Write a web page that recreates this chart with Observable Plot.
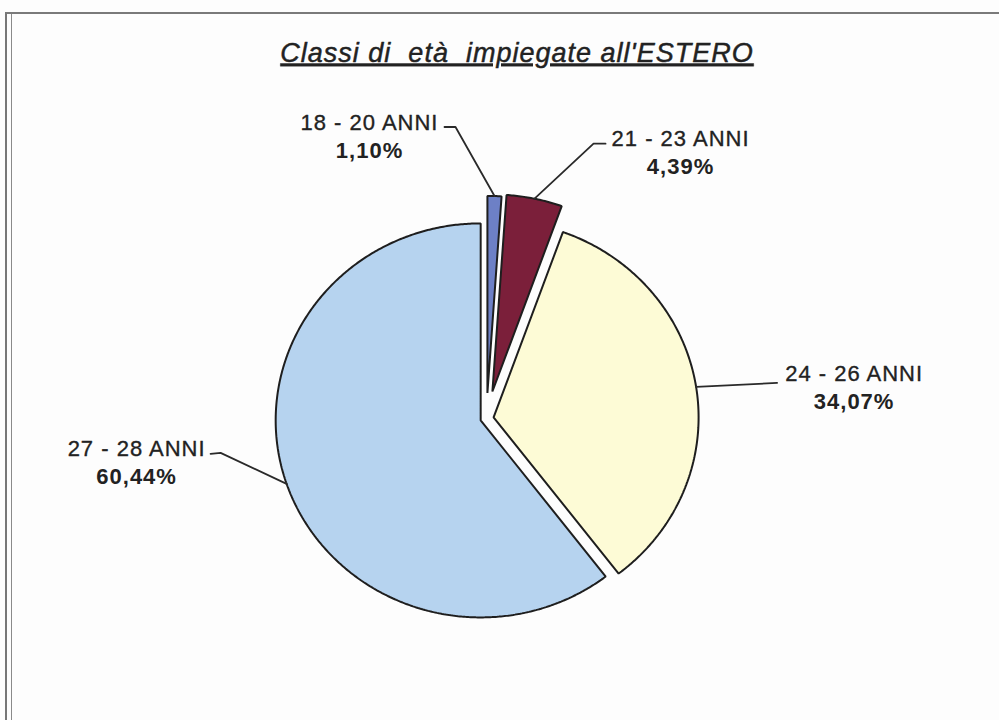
<!DOCTYPE html>
<html><head><meta charset="utf-8">
<script src="https://cdn.jsdelivr.net/npm/d3@7"></script>
<script src="https://cdn.jsdelivr.net/npm/@observablehq/plot@0.6"></script>
<style>
body{margin:0;background:#fff;}
#wrap{position:relative;width:999px;height:720px;overflow:hidden;background:#fdfdfd;}
#wrap svg{position:absolute;left:0;top:0;}
.fr1{position:absolute;left:5px;top:12px;width:2000px;height:2000px;border-left:2px solid #777;border-top:2px solid #7a7a7a;}
.fr2{position:absolute;left:11px;top:14px;width:2000px;height:2000px;border-left:1.5px solid #8a8a8a;}
</style></head><body><div id="wrap"><div class="fr1"></div><div class="fr2"></div></div>
<script>
// ---- data ----
const title = "Classi di  età  impiegate all'ESTERO";
const categories = ["18 - 20 ANNI", "21 - 23 ANNI", "24 - 26 ANNI", "27 - 28 ANNI"];
const shares = [1.10, 4.39, 34.07, 60.44];
const shareLabels = ["1,10%", "4,39%", "34,07%", "60,44%"];

// ---- style / layout constants ----
const colors = ["#6d80c6", "#7b1f3a", "#fdfbd6", "#b6d3ef"];
const explode = [0.13, 0.14, 0.035, 0.03];          // radial offset, in pie radii
const CX = 486, CY = 418, RX = 205, RY = 197;       // pie centre & radius (px)
// leader/label offsets in px relative to the arc point at the slice bisector
const leaderLayout = [
  {path: [[-39, -69], [-50, -69]], text: [-125, -66]},
  {path: [[59, -55], [71, -55]], text: [146, -53]},
  {path: [[81, -4]], text: [158, -6]},
  {path: [[-66, -31], [-76, -30]], text: [-150, -28]}
];
const lineGap = 28;
const font = "'Liberation Sans', Arial, Helvetica, sans-serif";

// ---- geometry ----
const total = d3.sum(shares);
const rad = d => d * Math.PI / 180;
const pt = (deg, r, ox, oy) => [ox + r * Math.sin(rad(deg)), oy - r * Math.cos(rad(deg))];
let cum = 0;
const slices = shares.map((v, i) => {
  const a0 = cum / total * 360; cum += v; const a1 = cum / total * 360;
  const [ox, oy] = pt((a0 + a1) / 2, explode[i], 0, 0);
  return {i, cat: categories[i], a0, a1, mid: (a0 + a1) / 2, ox, oy};
});
const slicePts = [];
slices.forEach(s => {
  slicePts.push({cat: s.cat, x: s.ox, y: s.oy});
  const n = Math.max(2, Math.ceil((s.a1 - s.a0) / 0.5));
  for (let k = 0; k <= n; k++) {
    const a = s.a0 + (s.a1 - s.a0) * k / n;
    const [x, y] = pt(a, 1, s.ox, s.oy);
    slicePts.push({cat: s.cat, x, y});
  }
});
const leaderPts = [], labels = [];
slices.forEach(s => {
  const [ax, ay] = pt(s.mid, 1, s.ox, s.oy);
  const L = leaderLayout[s.i];
  leaderPts.push({cat: s.cat, x: ax, y: ay});
  L.path.forEach(([dx, dy]) => leaderPts.push({cat: s.cat, x: ax + dx / RX, y: ay + dy / RY}));
  labels.push({cat: s.cat, pct: shareLabels[s.i], x: ax + L.text[0] / RX, y: ay + L.text[1] / RY, y2: ay + (L.text[1] + lineGap) / RY});
});

const chart = Plot.plot({
  width: 999, height: 720,
  margin: 0,
  style: {fontFamily: font, background: "transparent", overflow: "visible"},
  x: {domain: [-CX / RX, (999 - CX) / RX], range: [0, 999], axis: null},
  y: {domain: [-CY / RY, (720 - CY) / RY], range: [0, 720], axis: null},
  color: {type: "ordinal", domain: categories, range: colors},
  marks: [
    Plot.line(slicePts, {x: "x", y: "y", z: "cat", fill: "cat", stroke: "#1e1e1e", strokeWidth: 2, curve: "linear-closed", strokeLinejoin: "miter"}),
    Plot.line(leaderPts, {x: "x", y: "y", z: "cat", stroke: "#2a2a2a", strokeWidth: 1.8}),
    Plot.text(labels, {x: "x", y: "y", text: "cat", fontSize: 22, fill: "#222", stroke: "#222", strokeWidth: 0.35, textAnchor: "middle", lineAnchor: "bottom", className: "lbl"}),
    Plot.text(labels, {x: "x", y: "y2", text: "pct", fontSize: 22, fontWeight: "bold", fill: "#222", textAnchor: "middle", lineAnchor: "bottom", className: "lbl"}),
    Plot.text([title], {frameAnchor: "top", dx: 17, dy: 61, text: d => d, fontSize: 27, fontStyle: "italic", fill: "#222", stroke: "#222", strokeWidth: 0.45, textAnchor: "middle", lineAnchor: "bottom", className: "ttl"})
  ]
});
document.getElementById("wrap").appendChild(chart);
d3.select(chart).selectAll(".lbl text").style("letter-spacing", "1px");
d3.select(chart).selectAll(".ttl text")
  .style("white-space", "pre")
  .style("letter-spacing", "1px")
  .style("text-decoration", "underline")
  .style("text-decoration-thickness", "2.5px")
  .style("text-underline-offset", "4px");
</script>
</body></html>
